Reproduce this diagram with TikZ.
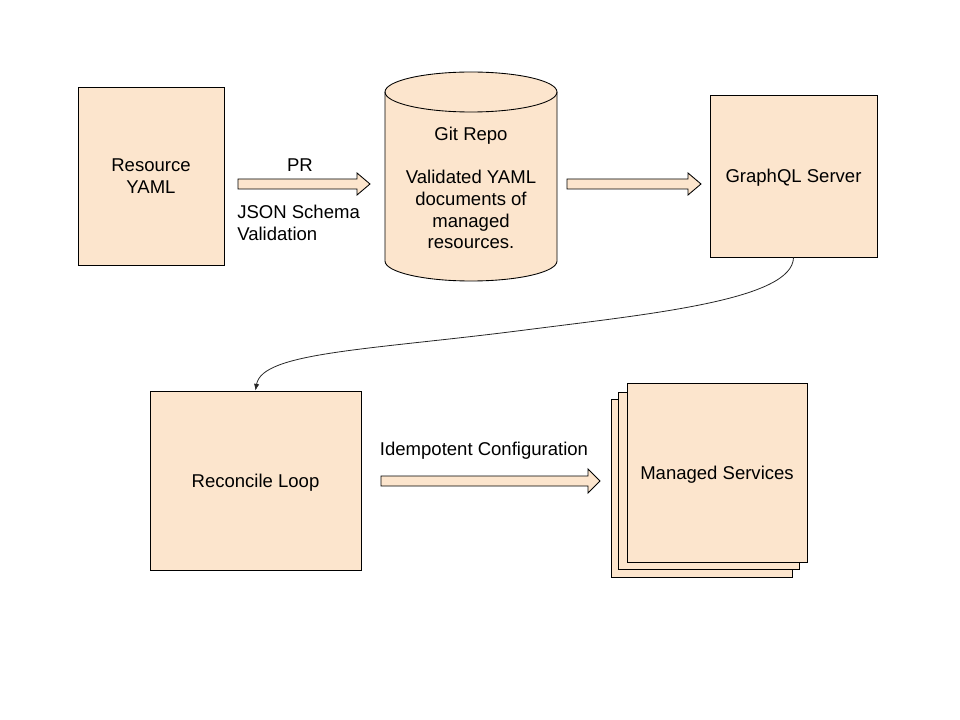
\documentclass[tikz,border=0pt]{standalone}
\usepackage{fontspec}
\setmainfont{Liberation Sans}
\usetikzlibrary{arrows.meta}
\definecolor{peach}{HTML}{FCE5CD}
\begin{document}
\begin{tikzpicture}[x=0.75pt,y=-0.75pt,
  every node/.style={font=\fontsize{13.9}{16.3}\selectfont, inner sep=0pt},
  box/.style={draw=black, fill=peach, line width=0.65pt, rectangle, text depth=0pt},
  shp/.style={draw=black, fill=peach, line width=0.65pt, line join=miter},
  conn/.style={draw=black!85, line width=0.6pt, -{Latex[length=5pt,width=4pt]}}]
\useasboundingbox (0,0) rectangle (960,720);

% Resource YAML
\node[box, minimum width=109.5pt, minimum height=133.5pt, align=center] (res) at (151,176) {Resource\\YAML};

% Block arrow 1
\path[shp] (238,179) -- (357,179) -- (357,173) -- (370,184) -- (357,195) -- (357,189) -- (238,189) -- cycle;
\node (pr) at (300,165) {PR};
\node[anchor=west, align=left] (json) at (237,223) {JSON Schema\\Validation};

% Git repo cylinder
\path[shp] (385,92) -- (385,261) arc(180:360:64.5pt and 15pt) -- (557,92) arc(0:180:64.5pt and 15pt) -- cycle;
\draw[line width=0.65pt] (385,92) arc(180:360:64.5pt and 15pt);
\node[align=center] (git) at (471,188) {Git Repo\\[16.3pt]Validated YAML\\documents of\\managed\\resources.};

% Block arrow 2
\path[shp] (567,179) -- (688,179) -- (688,173) -- (701,184) -- (688,195) -- (688,189) -- (567,189) -- cycle;

% GraphQL Server
\node[box, minimum width=125.25pt, minimum height=121.5pt] (gql) at (793.5,176) {GraphQL Server};

% Reconcile Loop
\node[box, minimum width=158.25pt, minimum height=134.25pt] (rec) at (255.5,480.5) {Reconcile Loop};

% curved connector
\coordinate (cm) at (525,330);
\draw[conn] (gql.south) .. controls (793,300) and (650,314) .. (cm) .. controls (370,350) and (262,352) .. (rec.north);

% Block arrow 3
\node (idem) at (484,451) {Idempotent Configuration};
\path[shp] (381,476) -- (588,476) -- (588,469) -- (600,481) -- (588,493) -- (588,486) -- (381,486) -- cycle;

% Managed Services stack
\path[shp] (611,399) rectangle (792,577);
\path[shp] (618,392) rectangle (799,569);
\node[box, minimum width=135pt, minimum height=134.25pt] (ms) at (717,472.5) {Managed Services};
\end{tikzpicture}
\end{document}
